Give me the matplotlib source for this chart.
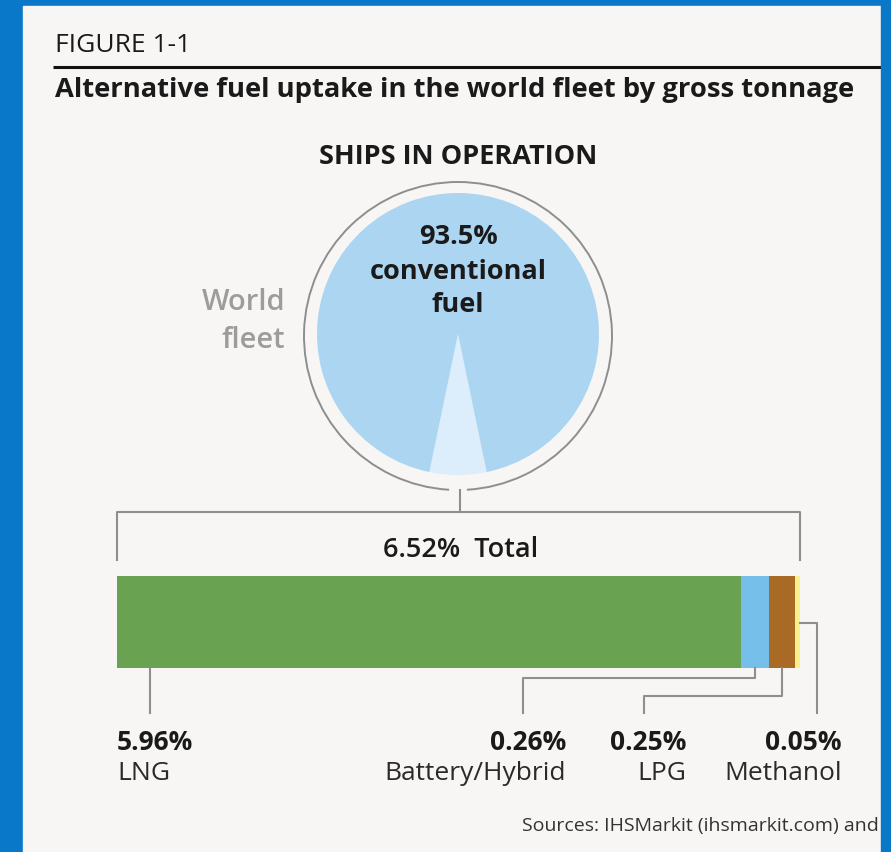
import matplotlib
matplotlib.use("Agg")
import matplotlib.pyplot as plt
from matplotlib.patches import Rectangle, Arc

# ---------------- data ----------------
pie_labels = ["Conventional fuel", "Alternative fuel"]
pie_values = [93.48, 6.52]
pie_colors = ["#acd5f2", "#dcedfb"]

fuel_names = ["LNG", "Battery/Hybrid", "LPG", "Methanol"]
fuel_values = [5.96, 0.26, 0.25, 0.05]
fuel_colors = ["#69a352", "#76bfea", "#a86a24", "#fcf08a"]
fuel_value_labels = ["5.96%", "0.26%", "0.25%", "0.05%"]
total_label = "6.52%  Total"

W, H = 891, 852
fig = plt.figure(figsize=(W / 100, H / 100), dpi=100)

# background axes in pixel coordinates
bg = fig.add_axes([0, 0, 1, 1])
bg.set_xlim(0, W)
bg.set_ylim(H, 0)
bg.axis("off")

BLUE = "#0a78c8"
PANEL = "#f7f6f4"
GRAY = "#8e8e8e"
DARK = "#1a1a1a"

bg.add_patch(Rectangle((0, 0), W, H, color=BLUE, zorder=0))
bg.add_patch(Rectangle((23, 6), 881 - 23, H - 6, color=PANEL, zorder=1))

# pie
cx, cy, r = 458, 334, 141
pie_ax = fig.add_axes([(cx - r) / W, (H - cy - r) / H, 2 * r / W, 2 * r / H])
small_share = pie_values[1] / sum(pie_values) * 360
pie_ax.pie(pie_values[::-1], colors=pie_colors[::-1],
           startangle=270 - small_share / 2, counterclock=True,
           radius=1, wedgeprops=dict(linewidth=0))
pie_ax.set_xlim(-1, 1)
pie_ax.set_ylim(-1, 1)
pie_ax.set_aspect("equal")
pie_ax.axis("off")

# stacked bar
bx0, bx1 = 117, 800
by0, by1 = 576, 668
total = sum(fuel_values)
bar_ax = fig.add_axes([bx0 / W, (H - by1) / H, (bx1 - bx0) / W, (by1 - by0) / H])
left = 0
for v, c in zip(fuel_values, fuel_colors):
    bar_ax.barh(0, v, left=left, color=c, height=1, linewidth=0)
    left += v
bar_ax.set_xlim(0, total)
bar_ax.set_ylim(-0.5, 0.5)
bar_ax.axis("off")

# overlay axes for text and lines (pixel coordinates)
ov = fig.add_axes([0, 0, 1, 1])
ov.set_xlim(0, W)
ov.set_ylim(H, 0)
ov.axis("off")
ov.patch.set_alpha(0)

main_font = ["Open Sans", "DejaVu Sans"]

ov.text(55, 45, "FIGURE 1-1", fontsize=19, family=main_font, color=DARK,
        ha="left", va="center")
ov.plot([53, 881], [67, 67], color="#111111", lw=2.2, solid_capstyle="butt")
ov.text(55, 90, "Alternative fuel uptake in the world fleet by gross tonnage",
        fontsize=19.7, family=main_font, weight="bold", color=DARK,
        ha="left", va="center")
ov.text(458, 157, "SHIPS IN OPERATION", fontsize=19.5, family=main_font,
        weight="bold", color=DARK, ha="center", va="center")

# outer ring with a gap at the bottom
ring_r = 154
gap = 3.3
ov.add_patch(Arc((cx, 336), 2 * ring_r, 2 * ring_r, angle=0,
                 theta1=90 + gap, theta2=90 - gap + 360,
                 color=GRAY, lw=1.4))

ov.text(458, 237, "93.5%", fontsize=19.5, family=main_font, weight="bold",
        color=DARK, ha="center", va="center")
ov.text(458, 272, "conventional", fontsize=19.5, family=main_font, weight="bold",
        color=DARK, ha="center", va="center")
ov.text(458, 305, "fuel", fontsize=19.5, family=main_font, weight="bold",
        color=DARK, ha="center", va="center")
ov.text(285, 303, "World", fontsize=21, family=main_font, weight="semibold",
        color="#9c9c9c", ha="right", va="center")
ov.text(285, 340, "fleet", fontsize=21, family=main_font, weight="semibold",
        color="#9c9c9c", ha="right", va="center")

# bracket
lw = 1.5
ov.plot([460, 460], [490, 512], color=GRAY, lw=lw)
ov.plot([bx0, bx0, bx1, bx1], [560, 512, 512, 560], color=GRAY, lw=lw)
ov.text(461, 550, total_label, fontsize=19.5, family=main_font, weight="semibold",
        color=DARK, ha="center", va="center")


def px(v):
    return bx0 + v / total * (bx1 - bx0)


cum = [sum(fuel_values[:i]) for i in range(len(fuel_values))]
centers = [px(c + v / 2) for c, v in zip(cum, fuel_values)]
label_bottom = 713
ov.plot([150, 150], [by1, label_bottom], color=GRAY, lw=lw)
ov.plot([centers[1], centers[1], 523, 523], [by1, 678, 678, label_bottom],
        color=GRAY, lw=lw)
ov.plot([centers[2], centers[2], 644, 644], [by1, 696, 696, label_bottom],
        color=GRAY, lw=lw)
ov.plot([bx1, 817, 817], [623, 623, label_bottom], color=GRAY, lw=lw)

label_x = [117, 566, 686, 842]
label_ha = ["left", "right", "right", "right"]
for x, ha, val, name in zip(label_x, label_ha, fuel_value_labels, fuel_names):
    ov.text(x, 743, val, fontsize=19, family=main_font, weight="bold",
            color=DARK, ha=ha, va="center")
    ov.text(x, 773, name, fontsize=19, family=main_font, color="#2a2a2a",
            ha=ha, va="center")

ov.text(879, 826, "Sources: IHSMarkit (ihsmarkit.com) and", fontsize=14,
        family=main_font, color="#333333", ha="right", va="center")

# right blue strip drawn on top to clip
ov.add_patch(Rectangle((881, 0), W - 881, H, color=BLUE, zorder=10))

fig.savefig("out.png", dpi=100)
